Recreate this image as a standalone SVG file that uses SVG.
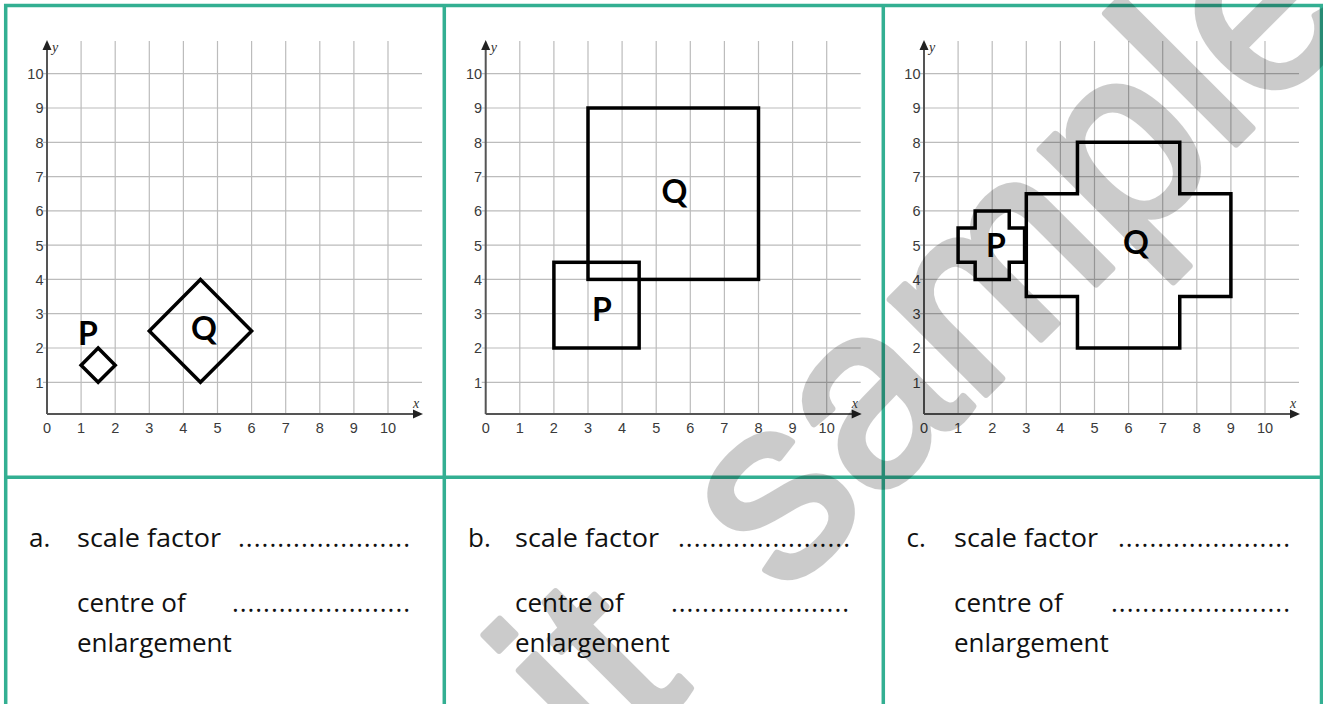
<svg xmlns="http://www.w3.org/2000/svg" xmlns:xlink="http://www.w3.org/1999/xlink" width="1323" height="704" viewBox="0 0 1323 704">
<style>
.grid{stroke:#bcbcbc;stroke-width:1.2;fill:none}
.axis{stroke:#555;stroke-width:2;fill:none}
.arrow{fill:#222}
.tick{font-family:"Liberation Sans",Arial,sans-serif;font-size:14.5px;fill:#3a3a3a}
.tx{text-anchor:middle}
.ty{text-anchor:end}
.ax{font-family:"Liberation Serif","Times New Roman",serif;font-style:italic;font-size:14px;fill:#333}
.shape{fill:none;stroke:#000;stroke-width:3.5;stroke-linejoin:miter}
.lbl{font-family:Lato,"Open Sans",sans-serif;font-weight:bold;font-size:32px;fill:#000;text-anchor:middle}
.q{font-family:"Open Sans","Noto Sans",sans-serif;font-size:26px;fill:#111}
.border{stroke:#33af92;stroke-width:3.5;fill:none}
.wm{font-family:"Liberation Sans",Arial,sans-serif;font-size:255px;fill:#000;stroke:#000;stroke-width:7;stroke-linejoin:round;stroke-linecap:round}
</style>
<defs>
<g id="graph">
<path class="grid" d="M81.1 41V414M115.2 41V414M149.3 41V414M183.4 41V414M217.5 41V414M251.6 41V414M285.7 41V414M319.8 41V414M353.9 41V414M388 41V414M43 382.3H422M43 348H422M43 313.7H422M43 279.4H422M43 245.2H422M43 210.9H422M43 176.6H422M43 142.3H422M43 108H422M43 73.7H422"/>
<path class="axis" d="M47 414H415M47 414V48"/>
<polygon class="arrow" points="423,414 413,409.5 413,418.5"/>
<polygon class="arrow" points="47,40 42.5,50 51.5,50"/>
<text class="ax" x="52" y="52">y</text>
<text class="ax" x="413" y="408">x</text>
<g class="tick ty">
<text x="43.5" y="387.6">1</text><text x="43.5" y="353.3">2</text><text x="43.5" y="319">3</text><text x="43.5" y="284.7">4</text><text x="43.5" y="250.5">5</text><text x="43.5" y="216.2">6</text><text x="43.5" y="181.9">7</text><text x="43.5" y="147.6">8</text><text x="43.5" y="113.3">9</text><text x="43.5" y="79">10</text>
</g>
<g class="tick tx">
<text x="47" y="432.5">0</text><text x="81.1" y="432.5">1</text><text x="115.2" y="432.5">2</text><text x="149.3" y="432.5">3</text><text x="183.4" y="432.5">4</text><text x="217.5" y="432.5">5</text><text x="251.6" y="432.5">6</text><text x="285.7" y="432.5">7</text><text x="319.8" y="432.5">8</text><text x="353.9" y="432.5">9</text><text x="388" y="432.5">10</text>
</g>
</g>
</defs>

<g id="table">
<path class="border" d="M5.7 704V5.5H1321.5V704M444.3 5.5V704M883.3 5.5V704M5.7 477.3H1321.5"/>
</g>

<g id="panel-a">
<use xlink:href="#graph"/>
<g id="a-P"><polygon class="shape" points="81.1,365.2 98.15,348 115.2,365.2 98.15,382.3"/><text class="lbl" x="88" y="345">P</text></g>
<g id="a-Q"><polygon class="shape" points="149.3,330.9 200.45,279.4 251.6,330.9 200.45,382.3"/><text class="lbl" x="204" y="340">Q</text></g>
</g>

<g id="panel-b" transform="translate(438.7,0)">
<use xlink:href="#graph"/>
<g id="b-Q"><rect class="shape" x="149.3" y="108" width="170.5" height="171.4"/><text class="lbl" x="235.8" y="203">Q</text></g>
<g id="b-P"><rect class="shape" x="115.2" y="262.3" width="85.25" height="85.7"/><text class="lbl" x="163.3" y="321">P</text></g>
</g>

<g id="panel-c" transform="translate(877,0)">
<use xlink:href="#graph"/>
<g id="c-Q"><polygon class="shape" points="149.3,193.7 200.45,193.7 200.45,142.3 302.75,142.3 302.75,193.7 353.9,193.7 353.9,296.6 302.75,296.6 302.75,348 200.45,348 200.45,296.6 149.3,296.6"/><text class="lbl" x="259" y="254">Q</text></g>
<g id="c-P"><polygon class="shape" points="81.1,228 98.15,228 98.15,210.9 132.25,210.9 132.25,228 147.6,228 147.6,262.3 132.25,262.3 132.25,279.4 98.15,279.4 98.15,262.3 81.1,262.3"/><text class="lbl" x="119" y="257">P</text></g>
</g>

<g id="question-a" class="q">
<text x="29" y="546.7">a.</text>
<text x="77" y="546.7" textLength="144" lengthAdjust="spacingAndGlyphs">scale factor</text>
<text x="238" y="546.7" textLength="172" lengthAdjust="spacing">......................</text>
<text x="77" y="611.7">centre of</text>
<text x="232" y="611.7" textLength="178" lengthAdjust="spacing">.......................</text>
<text x="77" y="651.7">enlargement</text>
</g>
<g id="question-b" class="q">
<text x="468" y="546.7">b.</text>
<text x="515" y="546.7" textLength="144" lengthAdjust="spacingAndGlyphs">scale factor</text>
<text x="678" y="546.7" textLength="172" lengthAdjust="spacing">......................</text>
<text x="515" y="611.7">centre of</text>
<text x="671" y="611.7" textLength="178" lengthAdjust="spacing">.......................</text>
<text x="515" y="651.7">enlargement</text>
</g>
<g id="question-c" class="q">
<text x="906.5" y="546.7">c.</text>
<text x="954" y="546.7" textLength="144" lengthAdjust="spacingAndGlyphs">scale factor</text>
<text x="1118" y="546.7" textLength="172" lengthAdjust="spacing">......................</text>
<text x="954" y="611.7">centre of</text>
<text x="1111" y="611.7" textLength="179" lengthAdjust="spacing">.......................</text>
<text x="954" y="651.7">enlargement</text>
</g>

<g id="watermark" opacity="0.2">
<text class="wm" transform="translate(602.5,777.8) rotate(-45)">it<tspan dx="57"> sample</tspan></text>
</g>
</svg>
